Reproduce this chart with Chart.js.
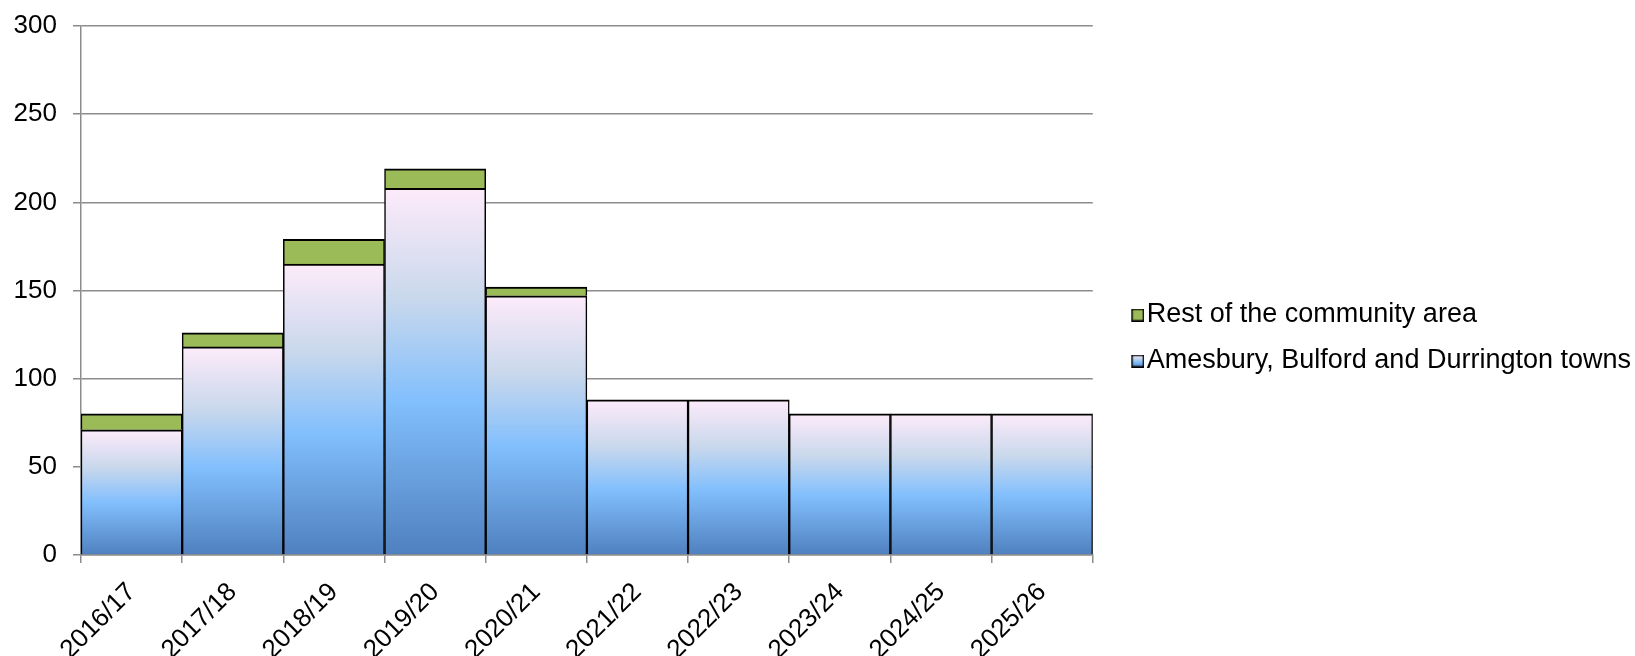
<!DOCTYPE html>
<html>
<head>
<meta charset="utf-8">
<title>Housing completions</title>
<script src="https://cdn.jsdelivr.net/npm/chart.js@4"></script>
<style>
  body { margin: 0; background: #fff; }
  #wrap { width: 1635px; height: 656px; }
</style>
</head>
<body>
<div id="wrap"><canvas id="myChart"></canvas></div>
<script>
'use strict';

// data
const years = ['2016/17', '2017/18', '2018/19', '2019/20', '2020/21', '2021/22', '2022/23', '2023/24', '2024/25', '2025/26'];
const townsValues = [71, 118, 165, 208, 147, 88, 88, 80, 80, 80];
const restValues = [9, 8, 14, 11, 5, 0, 0, 0, 0, 0];
const yTicks = [0, 50, 100, 150, 200, 250, 300];

const FONT = '"Liberation Sans", Arial, sans-serif';
const GRID = '#8c8c8c';

function addBlueStops(g) {
  g.addColorStop(0, '#fdebfa');
  g.addColorStop(0.3, '#c9d8ec');
  g.addColorStop(0.58, '#82bffd');
  g.addColorStop(1, '#4f80bf');
  return g;
}

// gradient for each blue bar, from its own top down to zero
function blueFill(c) {
  const chart = c.chart;
  if (!chart.chartArea || c.type !== 'data') return '#8cc0f8';
  const y = chart.scales.y;
  const top = y.getPixelForValue(c.raw);
  const base = y.getPixelForValue(0);
  if (!isFinite(top) || !isFinite(base) || base - top < 1) return '#8cc0f8';
  return addBlueStops(chart.ctx.createLinearGradient(0, top, 0, base));
}

// legend square, drawn at the right end of a small canvas so it sits near the text
function swatch(kind) {
  const c = document.createElement('canvas');
  c.width = 23;
  c.height = 13;
  const g = c.getContext('2d');
  g.fillStyle = kind === 'blue' ? addBlueStops(g.createLinearGradient(0, 0, 0, 13)) : '#9bbb59';
  g.fillRect(10, 0, 13, 13);
  g.strokeStyle = '#000';
  g.lineWidth = 1.5;
  g.strokeRect(10.75, 0.75, 11.5, 11.5);
  return c;
}

const ctx = document.getElementById('myChart').getContext('2d');

const barBorder = { top: 2, left: 1.5, right: 1.5, bottom: 0 };

const data = {
  labels: years,
  datasets: [
    {
      label: 'Amesbury, Bulford and Durrington towns',
      data: townsValues,
      backgroundColor: blueFill,
      borderColor: '#000',
      borderWidth: barBorder
    },
    {
      label: 'Rest of the community area',
      data: restValues,
      backgroundColor: '#9bbb59',
      borderColor: '#000',
      borderWidth: barBorder
    }
  ]
};

const options = {
  responsive: true,
  maintainAspectRatio: false,
  animation: false,
  datasets: {
    bar: {
      categoryPercentage: 1,
      barPercentage: 1
    }
  },
  layout: {
    padding: { top: 20, left: 0, right: -6, bottom: 0 }
  },
  plugins: {
    tooltip: { enabled: false },
    legend: {
      position: 'right',
      reverse: true,
      maxWidth: 540,
      labels: {
        color: '#000',
        font: { family: FONT, size: 27 },
        usePointStyle: true,
        pointStyleWidth: 1,
        boxHeight: 27,
        padding: 19,
        generateLabels: function(chart) {
          const kinds = ['blue', 'green'];
          return chart.data.datasets.map(function(ds, i) {
            return {
              text: ds.label,
              pointStyle: swatch(kinds[i]),
              fontColor: '#000',
              datasetIndex: i
            };
          });
        }
      }
    }
  },
  scales: {
    x: {
      stacked: true,
      offset: true,
      afterFit: function(s) { s.height = 101; },
      grid: {
        display: true,
        offset: true,
        drawOnChartArea: false,
        tickLength: 8,
        color: GRID,
        lineWidth: 1.5
      },
      border: { color: GRID, width: 1.5 },
      ticks: {
        color: '#000',
        font: { family: FONT, size: 26 },
        minRotation: 45,
        maxRotation: 45,
        padding: 14,
        labelOffset: 0,
        autoSkip: false
      }
    },
    y: {
      stacked: true,
      min: 0,
      max: 300,
      afterFit: function(s) {
        s.width = 81;
        s.paddingTop = 26;
      },
      afterBuildTicks: function(s) {
        s.ticks = yTicks.map(function(v) { return { value: v }; });
      },
      grid: {
        color: GRID,
        lineWidth: 1.5,
        tickLength: 8
      },
      border: { color: GRID, width: 1.5 },
      ticks: {
        color: '#000',
        font: { family: FONT, size: 26 },
        padding: 16
      }
    },
    // empty axis, only keeps a gap between the plot and the legend
    gap: {
      type: 'linear',
      position: 'right',
      afterFit: function(s) { s.width = 20.5; },
      grid: { display: false },
      border: { display: false },
      ticks: { display: false }
    }
  }
};

new Chart(ctx, {
  type: 'bar',
  data: data,
  options: options
});
</script>
</body>
</html>
